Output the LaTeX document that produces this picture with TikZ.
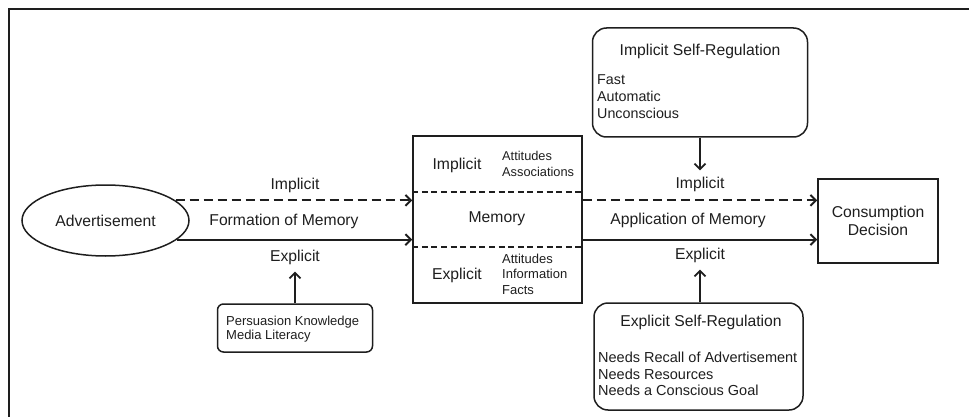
\documentclass[tikz,border=0pt]{standalone}
\usepackage{fontspec}
\setmainfont{Liberation Sans}
\usetikzlibrary{shapes.geometric,arrows.meta}
\definecolor{ink}{HTML}{1E1E1E}
\begin{document}
\begin{tikzpicture}[x=1pt,y=-1pt,
  every node/.style={text=ink},
  box/.style={draw=ink,line width=1.5pt,inner sep=0pt},
  rbox/.style={box,rounded corners=14pt},
  big/.style={font=\fontsize{15.7}{18}\selectfont},
  lbl/.style={big,inner sep=0pt},
  small/.style={font=\fontsize{13}{15.5}\selectfont,align=left,anchor=west,inner sep=0pt},
  mid/.style={font=\fontsize{14.5}{16.5}\selectfont,align=left,anchor=west,inner sep=0pt},
  conn/.style={draw=ink,line width=1.9pt,-{Straight Barb[length=5.5pt,width=11pt]}},
  dconn/.style={conn,dash pattern=on 9pt off 5pt},
  inner/.style={draw=ink,line width=1.5pt,dash pattern=on 6pt off 3.6pt}
]
\useasboundingbox (0,0) rectangle (969,417);
% frame
\draw[line width=2.2pt,ink] (9,420) -- (9,9) -- (972,9);

% nodes
\node[box,ellipse,minimum width=167pt,minimum height=71pt,big] (ad) at (105.5,220.5) {Advertisement};
\node[box,minimum width=169pt,minimum height=167pt] (mem) at (497.5,219.5) {};
\node[box,minimum width=120pt,minimum height=84pt,big,align=center,font=\fontsize{15.7}{18.5}\selectfont] (cd) at (878,221) {Consumption\\Decision};
\node[rbox,minimum width=215pt,minimum height=109pt] (isr) at (700,82.5) {};
\node[rbox,minimum width=209pt,minimum height=107pt] (esr) at (698.5,356.5) {};
\node[box,rounded corners=6pt,minimum width=155pt,minimum height=48pt] (pk) at (295,328) {};

% memory box contents
\draw[inner] (mem.west |- 0,192) -- (mem.east |- 0,192);
\draw[inner] (mem.west |- 0,247) -- (mem.east |- 0,247);
\node[lbl] (mi) at (457,165) {Implicit};
\node[small,font=\fontsize{12.8}{16}\selectfont] (mia) at (502,164) {Attitudes\\Associations};
\node[lbl] (mm) at (497,219) {Memory};
\node[lbl] (me) at (457,275) {Explicit};
\node[small,font=\fontsize{13}{15.5}\selectfont] (mea) at (502,274) {Attitudes\\Information\\Facts};

% self-regulation boxes
\node[lbl] (isrt) at (700,51) {Implicit Self-Regulation};
\node[mid,font=\fontsize{14.3}{17}\selectfont] (isrl) at (597,97) {Fast\\Automatic\\Unconscious};
\node[lbl] (esrt) at (701,322) {Explicit Self-Regulation};
\node[mid] (esrl) at (598,374) {Needs Recall of Advertisement\\Needs Resources\\Needs a Conscious Goal};
\node[small,font=\fontsize{13}{14}\selectfont] (pkl) at (226,329) {Persuasion Knowledge\\Media Literacy};

% arrow labels left
\node[lbl] (li) at (295,185) {Implicit};
\node[lbl] (lf) at (284,221) {Formation of Memory};
\node[lbl] (le) at (295,257) {Explicit};
% arrow labels right
\node[lbl] (ri) at (700,184) {Implicit};
\node[lbl] (ra) at (688,220) {Application of Memory};
\node[lbl] (re) at (700,255) {Explicit};

% connectors
\draw[dconn] (ad.16.7) -- (ad.16.7 -| mem.west);
\draw[conn] (ad.-15.6) -- (ad.-15.6 -| mem.west);
\draw[dconn] (mem.east |- ad.16.7) -- (cd.west |- ad.16.7);
\draw[conn] (mem.east |- ad.-15.6) -- (cd.west |- ad.-15.6);
\draw[conn,shorten >=7pt] (pk.north) -- (pk.north |- le.south);
\draw[conn,shorten >=6pt] (isr.south) -- (isr.south |- ri.north);
\draw[conn,shorten >=7pt] (esr.north -| re.south) -- (re.south);
\end{tikzpicture}
\end{document}
